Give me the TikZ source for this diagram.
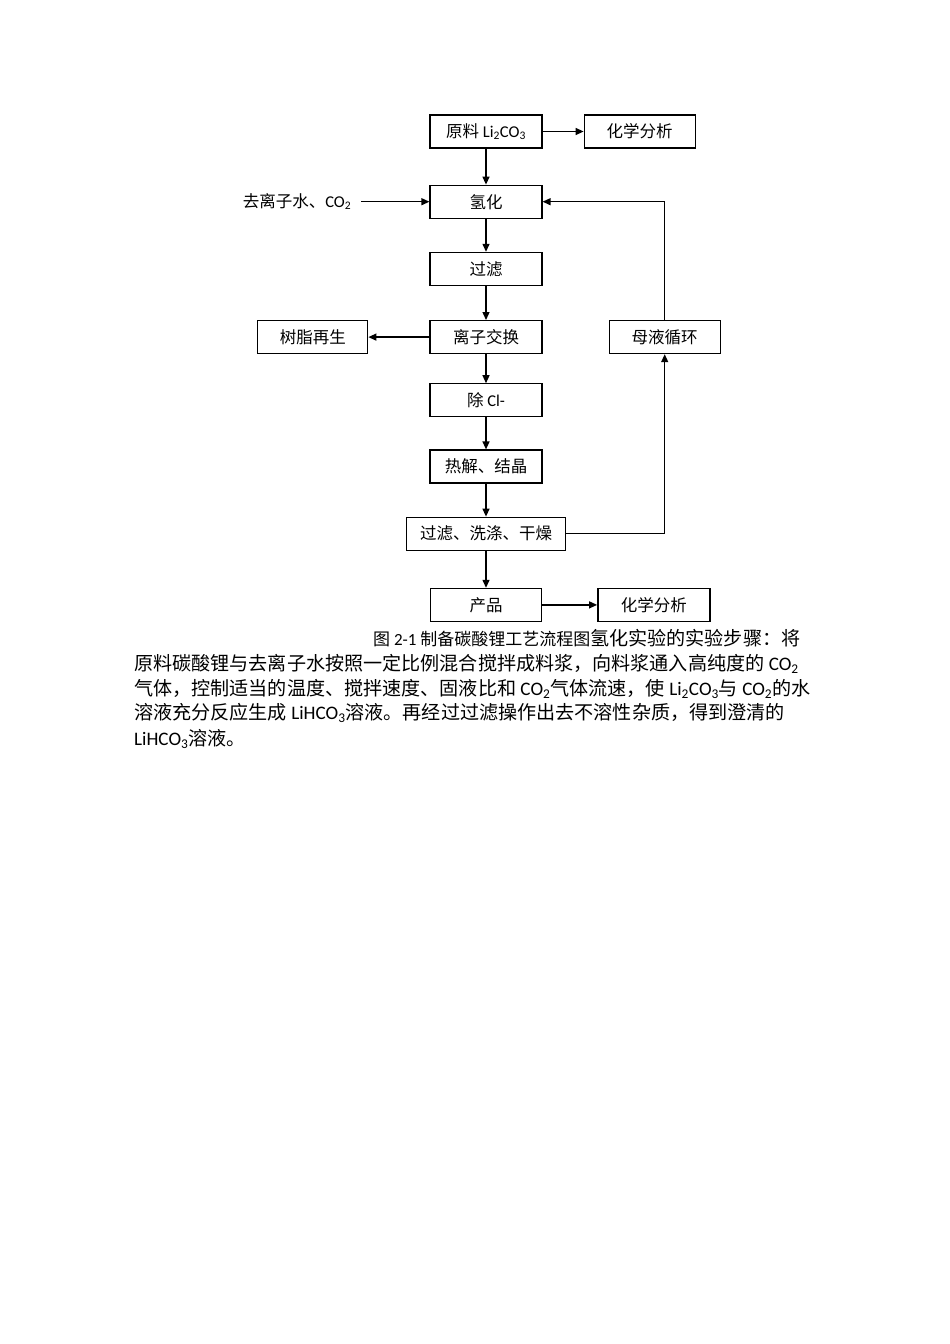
\documentclass[tikz,border=0pt]{standalone}
\usepackage{fontspec}
\setmainfont{Noto Sans CJK SC}
\newfontfamily\lat{Carlito}
\usetikzlibrary{arrows.meta, positioning}

\begin{document}
\begin{tikzpicture}[x=1pt, y=-1pt]
	\tikzset{
		stepnode/.style={rectangle, draw=black, line width=1.2pt, minimum width=112pt, minimum height=33pt, inner sep=2pt, font=\fontsize{16.5}{20}\selectfont},
		flow/.style={-{Triangle[length=8pt, width=7pt]}, line width=1.3pt},
		bodyline/.style={anchor=base west, inner sep=0pt, font=\fontsize{19.1}{25}\selectfont},
	}
	\useasboundingbox (0,0) rectangle (950,1344);

	% main column
	\node[stepnode] (raw) at (486,131.5) {原料 {\lat Li\textsubscript{2}CO\textsubscript{3}}};
	\node[stepnode, right = 41pt of raw, minimum width=111pt] (ana1) {化学分析};
	\node[stepnode, below = 36pt of raw] (hyd) {氢化};
	\node[stepnode, below = 33pt of hyd] (filt) {过滤};
	\node[stepnode, below = 34pt of filt] (ionx) {离子交换};
	\node[stepnode, below = 29pt of ionx] (decl) {除 {\lat Cl-}};
	\node[stepnode, below = 32pt of decl] (therm) {热解、结晶};
	\node[stepnode, below = 33pt of therm, minimum width=159pt] (wash) {过滤、洗涤、干燥};
	\node[stepnode, below = 37pt of wash, minimum width=111pt] (prod) {产品};
	\node[stepnode, right = 55pt of prod, line width=1.5pt] (ana2) {化学分析};

	% side nodes
	\node[inner sep=0pt, font=\fontsize{16.5}{20}\selectfont, left = 78pt of hyd] (water) {去离子水、{\lat CO\textsubscript{2}}};
	\node[stepnode, left = 61pt of ionx, minimum width=110pt] (resin) {树脂再生};
	\node[stepnode, right = 66pt of ionx, minimum width=111pt] (mother) {母液循环};

	\draw[flow] (raw) -- (ana1);
	\draw[flow] (raw) -- (hyd);
	\draw[flow, shorten <=10pt] (water) -- (hyd);
	\draw[flow] (hyd) -- (filt);
	\draw[flow] (filt) -- (ionx);
	\draw[flow] (ionx) -- (resin);
	\draw[flow] (ionx) -- (decl);
	\draw[flow] (decl) -- (therm);
	\draw[flow] (therm) -- (wash);
	\draw[flow] (wash) -- (prod);
	\draw[flow] (prod) -- (ana2);

	% mother liquor loop
	\draw[flow] (wash.east) -| (mother.south);
	\draw[flow] (mother.north) |- (hyd.east);

	% caption and text
	\node[bodyline] (cap) at (373,645.5) {{\fontsize{17}{20}\selectfont 图 {\lat 2-1} 制备碳酸锂工艺流程图}氢化实验的实验步骤：将};
	\node[bodyline] (ln1) at (134,670.5) {原料碳酸锂与去离子水按照一定比例混合搅拌成料浆，向料浆通入高纯度的 {\lat CO\textsubscript{2}}};
	\node[bodyline] (ln2) at (134,695.5) {气体，控制适当的温度、搅拌速度、固液比和 {\lat CO\textsubscript{2}}气体流速，使 {\lat Li\textsubscript{2}CO\textsubscript{3}}与 {\lat CO\textsubscript{2}}的水};
	\node[bodyline] (ln3) at (134,719.5) {溶液充分反应生成 {\lat LiHCO\textsubscript{3}}溶液。再经过过滤操作出去不溶性杂质，得到澄清的};
	\node[bodyline] (ln4) at (134,745.5) {{\lat LiHCO\textsubscript{3}}溶液。};
\end{tikzpicture}
\end{document}
